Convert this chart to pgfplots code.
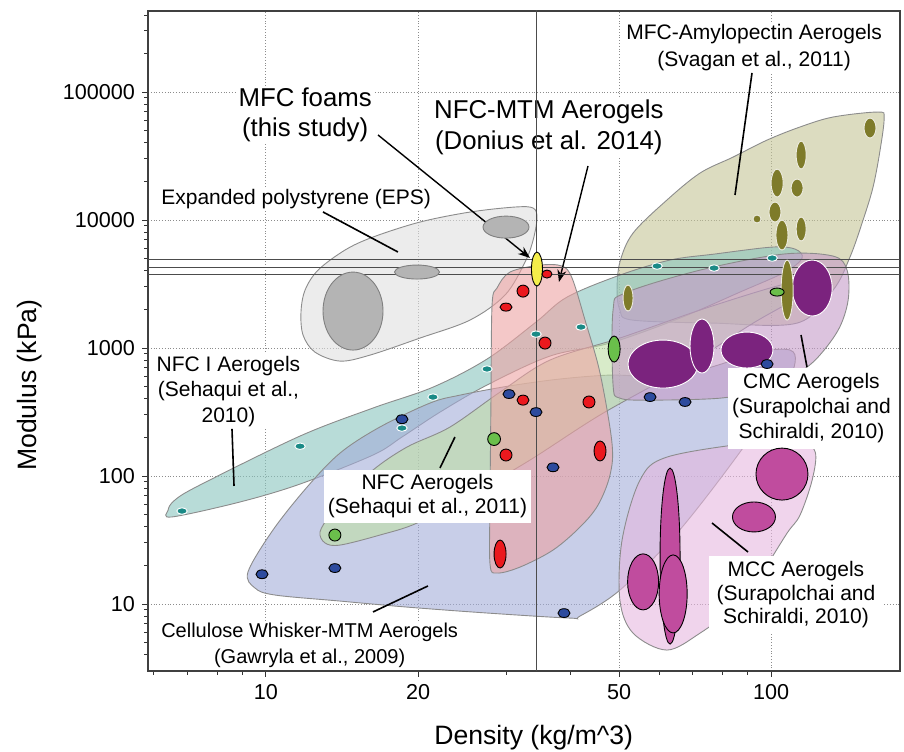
\documentclass[border=0pt]{standalone}
\usepackage{pgfplots}
\pgfplotsset{compat=1.18}
\usepackage{fontspec}
\setmainfont{Liberation Sans}
\usetikzlibrary{arrows.meta}

\definecolor{epsfill}{RGB}{223,223,223}
\definecolor{tealfill}{RGB}{137,197,190}
\definecolor{lavfill}{RGB}{163,173,217}
\definecolor{amyfill}{RGB}{197,197,150}
\definecolor{pinkfill}{RGB}{237,163,163}
\definecolor{greenfill}{RGB}{190,222,165}
\definecolor{cmcfill}{RGB}{197,155,200}
\definecolor{mccfill}{RGB}{230,183,223}
\definecolor{epsdot}{RGB}{180,180,180}
\definecolor{tealdot}{RGB}{26,138,134}
\definecolor{bluedot}{RGB}{45,75,158}
\definecolor{reddot}{RGB}{235,25,30}
\definecolor{greendot}{RGB}{106,191,75}
\definecolor{yellowdot}{RGB}{245,238,74}
\definecolor{olivedot}{RGB}{126,123,42}
\definecolor{cmcdot}{RGB}{123,35,126}
\definecolor{mccdot}{RGB}{192,76,158}

\pgfdeclareplotmark{ell}{%
  \pgfpathellipse{\pgfpointorigin}{\pgfpoint{\ellrx pt}{0pt}}{\pgfpoint{0pt}{\ellry pt}}%
  \pgfusepathqfillstroke}

\newcommand\lbl{\fontsize{10.5}{12.5}\selectfont}

\pgfplotsset{
  region/.style={fill=#1, fill opacity=0.6, draw=black!45, line width=0.45pt, smooth cycle, tension=0.55, mark=none},
  blobs/.style 2 args={scatter, only marks, mark=ell, line width=0.45pt,
    scatter/use mapped color={draw=#1, fill=#2},
    visualization depends on={value \thisrow{rx} \as \ellrx},
    visualization depends on={value \thisrow{ry} \as \ellry}},
}

\begin{document}
\begin{tikzpicture}
\begin{axis}[name=ax,
  scale only axis, width=376pt, height=330pt,
  xmode=log, ymode=log,
  xmin=5.84, xmax=180, ymin=3, ymax=430000,
  xtick={10,20,50,100}, xticklabels={10,20,50,100},
  minor xtick={6,7,8,9,30,40,60,70,80,90},
  ytick={10,100,1000,10000,100000}, yticklabels={10,100,1000,10000,100000},
  minor ytick={4,5,6,7,8,9,20,30,40,50,60,70,80,90,200,300,400,500,600,700,800,900,2000,3000,4000,5000,6000,7000,8000,9000,20000,30000,40000,50000,60000,70000,80000,90000,200000,300000,400000},
  tick pos=left, tick align=outside,
  major tick length=3pt, minor tick length=2pt,
  tick style={black!80, line width=0.5pt},
  xmajorgrids, ymajorgrids,
  major grid style={black!45, densely dotted, line width=0.5pt},
  axis line style={black!75, line width=0.7pt},
  tick label style={font=\fontsize{10.8}{13}\selectfont},
  xlabel={Density (kg/m\textasciicircum 3)},
  ylabel={Modulus (kPa)},
  label style={font=\fontsize{13.3}{16}\selectfont},
  xlabel style={at={(axis description cs:0.513,-0.1015)}, anchor=center},
  ylabel style={at={(axis description cs:-0.157,0.433)}, anchor=center},
]
% ---------------- regions ----------------
% Expanded polystyrene
\addplot[region=epsfill] coordinates {(11.73,1910) (11.95,2838) (12.68,4064) (14.34,5834) (16.29,7366) (20.18,9650) (25.35,11550) (31.12,12640) (33.8,12410) (34.4,10370) (33.8,6980) (32.58,4700) (29.74,2595) (25.35,1655) (20.18,1197) (16.07,881) (14.02,791) (12.5,930) (11.84,1264)};
% MFC-Amylopectin
\addplot[region=amyfill] coordinates {(50.2,1982) (49.55,2838) (50.2,4695) (53.3,7910) (62.2,14330) (72.35,23300) (84.1,31050) (98.2,42170) (114.1,53350) (132.7,63830) (162.9,69820) (167.4,62650) (164.4,35240) (159.2,18110) (152.1,10000) (143.3,5140) (132.7,2838) (112.6,1567) (76.77,1567) (53.06,1656)};
% NFC I Aerogels
\addplot[region=tealfill] coordinates {(6.40,54.2) (6.60,64.9) (7.40,85.1) (11.68,205.4) (16.29,340) (21.41,495) (27.39,820) (34.25,1596) (39.45,2500) (50.2,3715) (63.1,4870) (77.13,5420) (100.5,6150) (111.6,5930) (115.2,5047) (106.6,3925) (86.8,2738) (66.05,1715) (47.98,1094) (36.51,866) (27.39,514) (22.11,316) (18.59,201.8) (16.29,146) (11.68,86.6) (8.88,62.7) (6.51,47.9)};
% Cellulose whisker-MTM
\addplot[region=lavfill] coordinates {(9.21,17.78) (9.51,13.34) (10.42,11.76) (14.02,10.55) (19.02,9.47) (27.39,8.51) (40.0,7.77) (41.86,8.06) (50.2,12.85) (65.16,35.87) (86.8,154) (106.6,514) (111.6,778) (109.0,965) (95.1,931) (72.35,673) (57.6,604) (47.98,615) (38.2,573) (30.28,505) (24.23,429) (21.13,372) (16.81,241.6) (14.02,151.4) (12.06,82.0) (10.32,37.8)};
% NFC Aerogels 2011
\addplot[region=greenfill] coordinates {(12.79,36.5) (13.39,49.5) (14.47,68.5) (16.29,111.4) (19.02,168.5) (23.14,241.6) (29.07,453) (36.51,806) (50.2,1197) (72.35,1982) (99.5,2944) (111.6,3221) (115.2,2738) (109.0,2287) (90.9,1515) (66.05,673) (45.85,300) (33.33,133.4) (25.35,71.0) (19.91,42.9) (16.81,34.6) (14.02,28.9) (13.09,30.0)};
% NFC-MTM
\addplot[region=pinkfill] coordinates {(28.03,2168) (28.67,2944) (30.42,3925) (34.88,4446) (38.55,4371) (40.36,3524) (42.82,1656) (45.85,638) (48.42,181) (47.98,101.8) (45.43,59.3) (41.86,39.96) (37.01,26.4) (31.84,19.45) (28.67,17.47) (27.77,20.5) (27.77,64.9) (27.89,392)};
% CMC
\addplot[region=cmcfill] coordinates {(48.66,1982) (51.4,2692) (72.35,4064) (105.6,5420) (132.7,5230) (141.4,4064) (142.1,2371) (135.8,1382) (122.3,806) (109.0,583) (95.1,470) (79.25,406) (57.6,392) (50.2,406) (48.66,514)};
% MCC
\addplot[region=mccfill] coordinates {(55.03,93.1) (62.2,140.6) (90.9,181) (114.1,184.5) (122.3,154) (120.6,93.1) (114.1,49.5) (107.6,35.87) (95.1,16.85) (82.9,8.98) (72.35,5.93) (62.2,4.37) (53.3,5.93) (50.2,10.74) (50.7,31.6)};

% ---------------- labels ----------------
\node[fill=white, inner sep=1pt, align=center, font=\fontsize{12.9}{15}\selectfont] at (axis description cs:0.209,0.842) {MFC foams\\(this study)};
\node[fill=white, inner sep=1pt, align=center, font=\fontsize{12.9}{15.5}\selectfont] at (axis description cs:0.533,0.824) {NFC-MTM Aerogels\\(Donius et al. 2014)};
\node[fill=white, inner sep=1pt, font=\lbl] at (axis description cs:0.197,0.715) {Expanded polystyrene (EPS)};
\node[fill=white, inner sep=1pt, align=center, font=\fontsize{10.5}{13.5}\selectfont] at (axis description cs:0.806,0.944) {MFC-Amylopectin Aerogels\\(Svagan et al., 2011)};
\node[fill=white, inner sep=1pt, align=center, font=\fontsize{10.5}{12.8}\selectfont] at (axis description cs:0.107,0.4235) {NFC I Aerogels\\(Sehaqui et al.,\\2010)};
\node[fill=white, inner xsep=2pt, inner ysep=2.5pt, align=center, font=\fontsize{10.5}{12}\selectfont] at (axis description cs:0.3717,0.2644) {NFC Aerogels\\(Sehaqui et al., 2011)};
\node[fill=white, inner xsep=2pt, inner ysep=3pt, align=center, font=\fontsize{10.5}{12.5}\selectfont] at (axis description cs:0.8823,0.3977) {CMC Aerogels\\(Surapolchai and\\Schiraldi, 2010)};
\node[fill=white, inner xsep=4pt, inner ysep=3pt, align=center, font=\fontsize{10.5}{11.8}\selectfont] at (axis description cs:0.8617,0.1152) {MCC Aerogels\\(Surapolchai and\\Schiraldi, 2010)};
\node[fill=white, inner sep=1pt, align=center, font=\fontsize{10}{12.8}\selectfont] at (axis description cs:0.215,0.039) {Cellulose Whisker-MTM Aerogels\\(Gawryla et al., 2009)};

% leader lines
\draw[line width=0.8pt] (axis description cs:0.2327,0.6955) -- (axis description cs:0.3324,0.6348);
\draw[line width=0.7pt, -{Stealth[length=6pt, width=4.5pt]}] (axis description cs:0.3059,0.8121) -- (axis description cs:0.508,0.6258);
\draw[line width=0.7pt, -{Stealth[length=6pt, width=4.5pt]}] (axis description cs:0.5851,0.7652) -- (axis description cs:0.5465,0.5894);
\draw[line width=0.8pt] (axis description cs:0.8032,0.9061) -- (axis description cs:0.7806,0.7212);
\draw[line width=0.8pt] (axis description cs:0.1117,0.3667) -- (axis description cs:0.1144,0.2803);
\draw[line width=0.8pt] (axis description cs:0.4082,0.3545) -- (axis description cs:0.3883,0.3076);
\draw[line width=0.8pt] (axis description cs:0.3723,0.1288) -- (axis description cs:0.2992,0.0894);
\draw[line width=0.8pt] (axis description cs:0.8684,0.5091) -- (axis description cs:0.8763,0.4606);
\draw[line width=0.8pt] (axis description cs:0.75,0.2242) -- (axis description cs:0.7979,0.1803);

% ---------------- EPS data and this study ----------------
\addplot[blobs={black!50}{epsdot}] table {
x y rx ry
14.87 1945 15 19.5
19.91 3925 11.25 3.5
29.87 8810 11.5 5.5
};
\addplot[blobs={black}{yellowdot}] table {
x y rx ry
34.4 4141 2.75 8.5
};

% reference lines
\addplot[black!70, line width=0.5pt] coordinates {(5,4955) (200,4955)};
\addplot[black!70, line width=0.5pt] coordinates {(5,4295) (200,4295)};
\addplot[black!70, line width=0.5pt] coordinates {(5,3785) (200,3785)};
\addplot[black!70, line width=0.5pt] coordinates {(34.4,2) (34.4,500000)};

% ---------------- data ellipses ----------------
% CMC
\addplot[blobs={white}{cmcdot}] table {
x y rx ry
61.1 750 17.5 12
73.0 1037 6 13.5
89.6 965 13 9
120.6 2944 10 14
};
% MFC-Amylopectin
\addplot[blobs={white!85!olivedot}{olivedot}] table {
x y rx ry
157 52360 3 5
114.7 32200 2.5 7
102.8 19450 3 7
112.6 17780 3 4.5
101.8 11550 3 5
93.8 10190 2 2
105.1 7640 3 7.5
114.7 8510 2.5 6
107.6 2838 3 15
52.1 2459 2.5 6.5
};
% MCC
\addplot[blobs={black}{mccdot}] table {
x y rx ry
63.1 23.7 5 44
105.1 103.6 13 13
92.5 47.9 10.75 7.5
55.8 14.9 7.75 14
64.0 12.0 7 19.5
};
% NFC I
\addplot[blobs={white}{tealdot}] table {
x y rx ry
6.82 53.3 2.6 1.6
11.68 171 2.6 1.6
18.59 237 2.6 1.6
21.41 414 2.6 1.6
27.39 686 2.6 1.6
34.25 1285 2.6 1.6
42.05 1459 2.6 1.6
59.48 4371 2.6 1.6
77.13 4217 2.6 1.6
100.5 5047 2.6 1.6
};
% Cellulose whisker
\addplot[blobs={black}{bluedot}] table {
x y rx ry
9.82 17.1 3 2.2
13.69 19.1 3 2.2
18.59 278 3 2.2
30.28 437 3 2.2
34.25 316 3 2.2
37.01 117 3 2.2
38.91 8.5 3 2.2
57.6 414 3 2.2
67.56 379 3 2.2
98.2 750 3 2.2
};
% NFC-MTM
\addplot[blobs={black}{reddot}] table {
x y rx ry
36.0 3787 2.5 2
32.28 2786 3 3
29.87 2089 3 2
35.68 1094 3 3
32.28 392 3 2.5
43.6 379 3 3
29.87 146 3 3
45.85 157 3 5
29.07 24.6 3 7
};
% NFC Aerogels 2011
\addplot[blobs={black}{greendot}] table {
x y rx ry
13.69 34.6 3 3
28.29 194.5 3.2 3.2
48.9 982 3 6.5
102.8 2738 3.5 2
};
\end{axis}
\pgfresetboundingbox
\path[use as bounding box] ([shift={(-74pt,-40.5pt)}]ax.south west) rectangle ([shift={(2pt,5.5pt)}]ax.north east);
\end{tikzpicture}
\end{document}
